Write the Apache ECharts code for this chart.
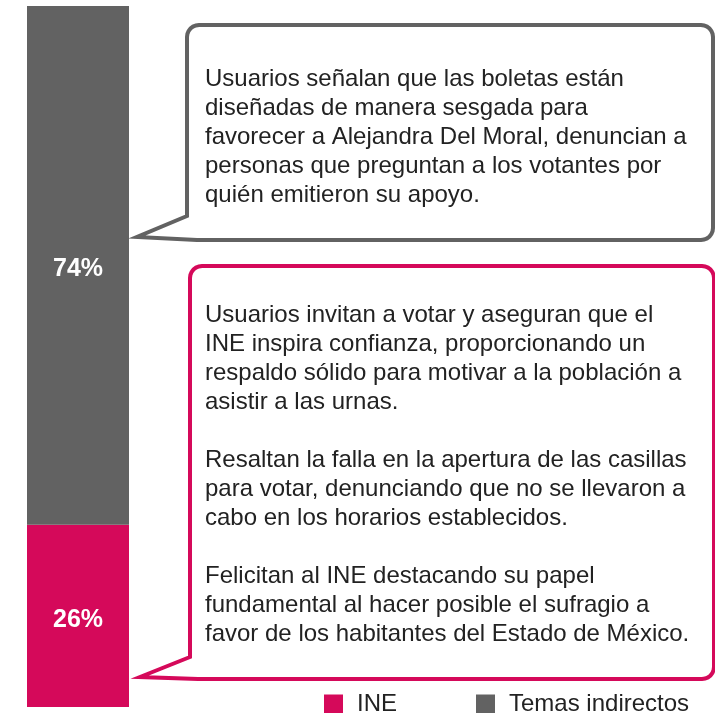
<!DOCTYPE html>
<html>
<head>
<meta charset="utf-8">
<script src="https://cdn.jsdelivr.net/npm/echarts@6/dist/echarts.min.js"></script>
<style>
  html, body { margin: 0; padding: 0; background: #fff; }
  #chart { width: 715px; height: 713px; }
</style>
</head>
<body>
<div id="chart"></div>
<script>
const categories = ['Total'];
const seriesNames = ['INE', 'Temas indirectos'];
const ineValues = [26];
const temasValues = [74];

const temasNotes = [
    'Usuarios señalan que las boletas están',
    'diseñadas de manera sesgada para',
    'favorecer a Alejandra Del Moral, denuncian a',
    'personas que preguntan a los votantes por',
    'quién emitieron su apoyo.'
];
const ineNotes = [
    'Usuarios invitan a votar y aseguran que el',
    'INE inspira confianza, proporcionando un',
    'respaldo sólido para motivar a la población a',
    'asistir a las urnas.',
    '',
    'Resaltan la falla en la apertura de las casillas',
    'para votar, denunciando que no se llevaron a',
    'cabo en los horarios establecidos.',
    '',
    'Felicitan al INE destacando su papel',
    'fundamental al hacer posible el sufragio a',
    'favor de los habitantes del Estado de México.'
];

const PINK = '#d5095a';
const GRAY = '#626262';
const FONT = '"Liberation Sans", Arial, Helvetica, sans-serif';

// rounded corner as a few points
function corner(cx, cy, r, a0, a1) {
    const pts = [];
    for (let i = 0; i <= 6; i++) {
        const a = a0 + (a1 - a0) * i / 6;
        pts.push([cx + r * Math.cos(a), cy + r * Math.sin(a)]);
    }
    return pts;
}

// speech bubble outline, pointer on the lower left side
function bubblePoints(l, t, r, b, tipX, tipY, pTop, pBot) {
    const c = 12;
    const P = Math.PI;
    return [].concat(
        corner(l + c, t + c, c, P, 1.5 * P),
        corner(r - c, t + c, c, 1.5 * P, 2 * P),
        corner(r - c, b - c, c, 0, 0.5 * P),
        [[pBot, b], [tipX, tipY], [l, pTop]]
    );
}

const barLabel = {
    show: true,
    position: 'inside',
    offset: [0, 4],
    color: '#fff',
    fontFamily: FONT,
    fontWeight: 'bold',
    fontSize: 25,
    formatter: '{c}%'
};

const chart = echarts.init(document.getElementById('chart'));
chart.setOption({
    animation: false,
    grid: { left: 27, width: 102, top: 6, bottom: 6 },
    xAxis: {
        type: 'category',
        data: categories,
        show: false
    },
    yAxis: {
        type: 'value',
        min: 0,
        max: 100,
        show: false
    },
    legend: {
        data: seriesNames,
        left: 324,
        top: 692,
        padding: 0,
        icon: 'rect',
        itemWidth: 19,
        itemHeight: 19,
        itemGap: 79,
        textStyle: {
            fontFamily: FONT,
            fontSize: 24,
            color: '#222',
            padding: [0, 0, 0, 9]
        }
    },
    series: [
        {
            name: seriesNames[0],
            type: 'bar',
            stack: 'total',
            barWidth: '100%',
            itemStyle: { color: PINK },
            label: barLabel,
            data: ineValues
        },
        {
            name: seriesNames[1],
            type: 'bar',
            stack: 'total',
            barWidth: '100%',
            itemStyle: { color: GRAY },
            label: barLabel,
            data: temasValues
        }
    ],
    graphic: [
        {
            type: 'polygon',
            shape: { points: bubblePoints(187, 25, 713, 240, 137, 237, 216, 197) },
            style: { fill: '#fff', stroke: GRAY, lineWidth: 4, lineJoin: 'miter' }
        },
        {
            type: 'text',
            x: 205,
            y: 65,
            style: {
                text: temasNotes.join('\n'),
                font: '24px ' + FONT,
                lineHeight: 29,
                fill: '#222'
            }
        },
        {
            type: 'polygon',
            shape: { points: bubblePoints(190, 266, 714, 679, 140, 677, 657, 198) },
            style: { fill: '#fff', stroke: PINK, lineWidth: 4, lineJoin: 'miter' }
        },
        {
            type: 'text',
            x: 205,
            y: 301,
            style: {
                text: ineNotes.join('\n'),
                font: '24px ' + FONT,
                lineHeight: 29,
                fill: '#222'
            }
        }
    ]
});
</script>
</body>
</html>
